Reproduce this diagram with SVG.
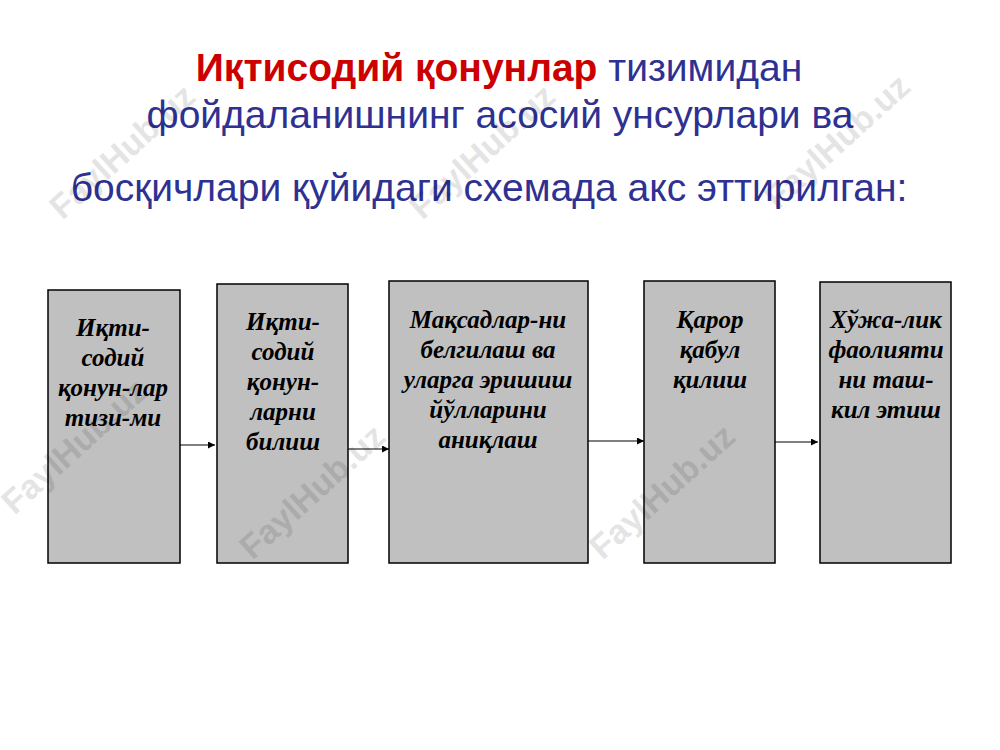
<svg xmlns="http://www.w3.org/2000/svg" width="1000" height="750" viewBox="0 0 1000 750">
<style>
.title{font-family:"Liberation Sans",Arial,sans-serif;font-size:39px;fill:#2e3192;text-anchor:middle}
.red{fill:#cc0000;font-weight:bold}
.box{fill:#c0c0c0;stroke:#000;stroke-width:1.5}
.lbl{font-family:"Liberation Serif","Times New Roman",serif;font-size:25px;font-weight:bold;font-style:italic;fill:#000;text-anchor:middle}
.conn{stroke:#000;stroke-width:1.2;fill:none}
.wm{font-family:"Liberation Sans",Arial,sans-serif;font-size:34px;font-weight:bold;fill:#000;opacity:0.1;text-anchor:middle}
</style>
<defs>
<marker id="ah" viewBox="0 0 10 10" refX="10" refY="5" markerWidth="7" markerHeight="7" markerUnits="userSpaceOnUse" orient="auto">
<path d="M0,0 L10,5 L0,10 z" fill="#000"/>
</marker>
</defs>
<rect width="1000" height="750" fill="#fff"/>
<g id="title">
<text class="title" x="499" y="81"><tspan class="red">Иқтисодий қонунлар</tspan> тизимидан</text>
<text class="title" x="500" y="128">фойдаланишнинг асосий унсурлари ва</text>
<text class="title" x="489" y="201">босқичлари қуйидаги схемада акс эттирилган:</text>
</g>
<g id="connectors">
<line class="conn" x1="180" y1="445" x2="215" y2="445" marker-end="url(#ah)"/>
<line class="conn" x1="348" y1="449" x2="389" y2="449" marker-end="url(#ah)"/>
<line class="conn" x1="588" y1="441" x2="644" y2="441" marker-end="url(#ah)"/>
<line class="conn" x1="775" y1="442" x2="818" y2="442" marker-end="url(#ah)"/>
</g>
<g id="n1">
<rect class="box" x="48" y="290" width="132" height="273"/>
<text class="lbl" x="113" y="336">Иқти-</text>
<text class="lbl" x="113" y="366">содий</text>
<text class="lbl" x="113" y="396">қонун-лар</text>
<text class="lbl" x="113" y="426">тизи-ми</text>
</g>
<g id="n2">
<rect class="box" x="217" y="284" width="131" height="279"/>
<text class="lbl" x="283" y="330">Иқти-</text>
<text class="lbl" x="283" y="360">содий</text>
<text class="lbl" x="283" y="390">қонун-</text>
<text class="lbl" x="283" y="420">ларни</text>
<text class="lbl" x="283" y="450">билиш</text>
</g>
<g id="n3">
<rect class="box" x="389" y="281" width="199" height="282"/>
<text class="lbl" x="488" y="328">Мақсадлар-ни</text>
<text class="lbl" x="488" y="358">белгилаш ва</text>
<text class="lbl" x="488" y="388">уларга эришиш</text>
<text class="lbl" x="488" y="418">йўлларини</text>
<text class="lbl" x="488" y="448">аниқлаш</text>
</g>
<g id="n4">
<rect class="box" x="644" y="281" width="131" height="282"/>
<text class="lbl" x="710" y="328">Қарор</text>
<text class="lbl" x="710" y="358">қабул</text>
<text class="lbl" x="710" y="388">қилиш</text>
</g>
<g id="n5">
<rect class="box" x="820" y="282" width="131" height="281"/>
<text class="lbl" x="886" y="328">Хўжа-лик</text>
<text class="lbl" x="886" y="358">фаолияти</text>
<text class="lbl" x="886" y="388">ни таш-</text>
<text class="lbl" x="886" y="418">кил этиш</text>
</g>
<g id="watermarks">
<text class="wm" transform="translate(130,160) rotate(-42)">FaylHub.uz</text>
<text class="wm" transform="translate(490,160) rotate(-42)">FaylHub.uz</text>
<text class="wm" transform="translate(845,150) rotate(-42)">FaylHub.uz</text>
<text class="wm" transform="translate(82,455) rotate(-42)">FaylHub.uz</text>
<text class="wm" transform="translate(320,500) rotate(-42)">FaylHub.uz</text>
<text class="wm" transform="translate(670,500) rotate(-42)">FaylHub.uz</text>
</g>
</svg>
